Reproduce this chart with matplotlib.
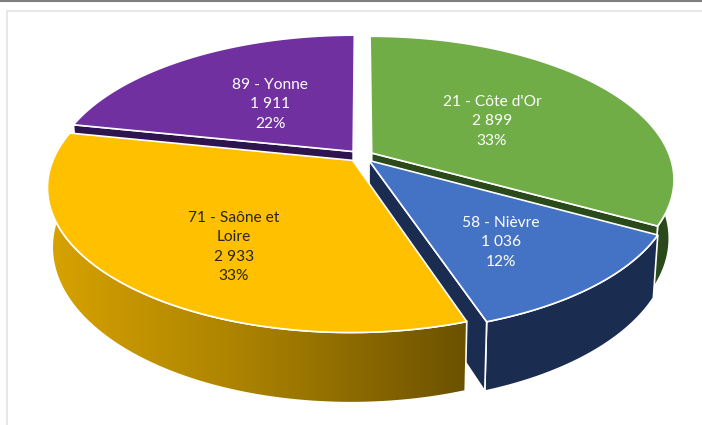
import numpy as np
import matplotlib
matplotlib.use('Agg')
import matplotlib.pyplot as plt
from matplotlib.colors import LinearSegmentedColormap
from matplotlib.patches import Polygon

plt.rcParams['font.family'] = ['Lato', 'DejaVu Sans']

# Data (clockwise from the top)
codes = ['21', '58', '71', '89']
names = ["Côte d'Or", 'Nièvre', 'Saône et\nLoire', 'Yonne']
values = [2899, 1036, 2933, 1911]

# Styles
top_colors = ['#70AD47', '#4472C4', '#FFC000', '#7030A0']
side_colors = ['#2B4A1C', '#1A2C50', None, '#2F1550']
text_colors = ['white', 'white', '#262626', 'white']
label_xy = [(492, 121), (501, 242), (234, 247), (270, 104)]
draw_order = [3, 0, 1, 2]

# Fake 3D view: a tilted disc seen with some perspective, in pixels
cx, cy = 361, 156
a, b, k = 298, 139, 0.182
depth = 57
shrink = 0.985
explode = 0.042


def project(x, y, bottom=False):
    s = 1 / (1 + k * y)
    if bottom:
        return cx + a * x * s * shrink, cy - b * y * s + depth * s
    return cx + a * x * s, cy - b * y * s


fig = plt.figure(figsize=(7.02, 4.25), dpi=100)
ax = fig.add_axes([0, 0, 1, 1])
ax.set_xlim(0, 702)
ax.set_ylim(425, 0)
ax.axis('off')

# The screenshot frame
ax.plot([0, 702], [0.5, 0.5], color='#7F7F7F', lw=1.5)
ax.plot([702, 7, 7], [10.5, 10.5, 425], color='#E3E3E3', lw=1.2)

total = sum(values)
edges = np.cumsum([0] + values) / total * 2 * np.pi
yellow_map = LinearSegmentedColormap.from_list('rim', ['#D9A400', '#A88000', '#6B5100'])

for n, i in enumerate(draw_order):
    z = 1 + n
    t = np.linspace(edges[i], edges[i + 1], 200)
    mid = (edges[i] + edges[i + 1]) / 2
    ox, oy = explode * np.sin(mid), explode * np.cos(mid)
    px, py = ox + np.sin(t), oy + np.cos(t)

    top = np.column_stack(project(px, py))
    low = np.column_stack(project(px, py, bottom=True))
    apex = project(ox, oy)
    apex_low = project(ox, oy, bottom=True)

    side = side_colors[i]
    rim = np.vstack([top, low[::-1]])
    if side is None:
        patch = Polygon(rim, closed=True, fc='none', ec='none')
        ax.add_patch(patch)
        im = ax.imshow(np.linspace(0, 1, 256)[None, :], cmap=yellow_map, aspect='auto',
                       extent=[40, 470, 425, 0], zorder=z)
        im.set_clip_path(patch)
        ax.add_patch(Polygon(rim, closed=True, fc='none', ec='white', lw=1.2, zorder=z + 0.1))
        ax.set_xlim(0, 702)
        ax.set_ylim(425, 0)
    else:
        # only the cut face nearer the viewer shows, it goes over the outer wall
        j = 0 if top[0][1] > top[-1][1] else -1
        face = [apex, top[j], low[j], apex_low]
        ax.add_patch(Polygon(rim, closed=True, fc=side, ec='white', lw=1.2, zorder=z))
        ax.add_patch(Polygon(face, closed=True, fc=side, ec='white', lw=1.2, zorder=z + 0.1))

    ax.add_patch(Polygon(np.vstack([[apex], top]), closed=True, fc=top_colors[i],
                         ec='white', lw=1.2, zorder=z + 0.2))

for i in range(len(values)):
    pct = round(values[i] / total * 100)
    val = f'{values[i]:,}'.replace(',', ' ')
    ax.text(label_xy[i][0], label_xy[i][1], f'{codes[i]} - {names[i]}\n{val}\n{pct}%',
            ha='center', va='center', ma='center', color=text_colors[i], fontsize=11.2,
            linespacing=1.5, zorder=20)

fig.savefig('out.png', dpi=100)
